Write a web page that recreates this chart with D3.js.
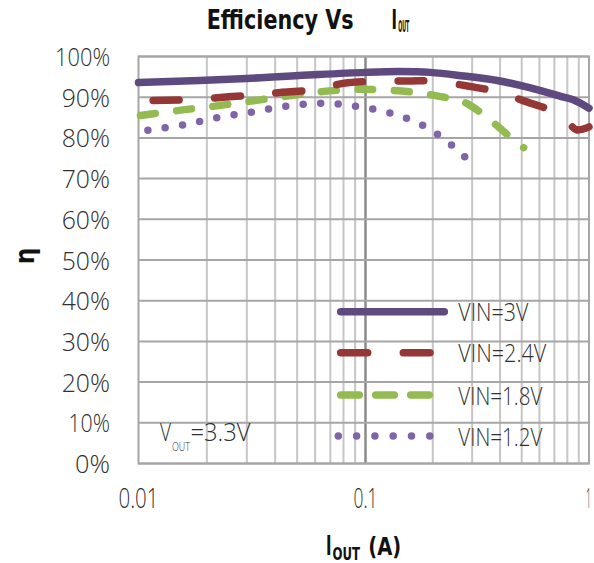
<!DOCTYPE html>
<html><head><meta charset="utf-8">
<script src="https://cdn.jsdelivr.net/npm/d3@7"></script>
<style>body{margin:0;background:#fff}</style></head>
<body>
<svg id="c" width="594" height="563"></svg>
<script>
// ---- data ----
const iVin3   = [0.01, 0.03, 0.059, 0.1, 0.14, 0.195, 0.275, 0.388, 0.547, 0.771, 0.855, 1.0];
const effVin3 = [93.6, 94.6, 95.5, 96.1, 96.3, 96.1, 95.2, 94.1, 92.3, 90.0, 89.3, 87.3];
const iVin24   = [0.0116, 0.017, 0.025, 0.032, 0.043, 0.059, 0.08, 0.113, 0.16, 0.2, 0.29, 0.39, 0.51, 0.7, 0.8, 0.88, 1.0];
const effVin24 = [89.2, 89.4, 90.1, 90.5, 91.2, 91.8, 93.4, 93.9, 94.0, 94.0, 92.7, 91.3, 89.1, 86.4, 84.0, 82.0, 82.7];
const iVin18   = [0.0102, 0.0147, 0.021, 0.03, 0.043, 0.06, 0.087, 0.11, 0.158, 0.206, 0.26, 0.288, 0.38, 0.476, 0.51];
const effVin18 = [85.5, 86.7, 87.7, 88.9, 90.1, 91.2, 91.9, 91.9, 91.3, 90.4, 89.2, 88.3, 83.4, 78.7, 77.6];
const iVin12   = [0.011, 0.0157, 0.0223, 0.032, 0.045, 0.065, 0.093, 0.133, 0.185, 0.246, 0.28];
const effVin12 = [81.9, 83.2, 85.0, 86.4, 87.8, 88.5, 87.7, 85.9, 82.8, 78.0, 75.2];
const seriesNames = ["VIN=3V", "VIN=2.4V", "VIN=1.8V", "VIN=1.2V"];
const yTickValues = [0, 10, 20, 30, 40, 50, 60, 70, 80, 90, 100];
const yTickLabels = ["0%", "10%", "20%", "30%", "40%", "50%", "60%", "70%", "80%", "90%", "100%"];
const xTickValues = [0.01, 0.1, 1];
const xTickLabels = ["0.01", "0.1", "1"];
const xMinorValues = [0.02,0.03,0.04,0.05,0.06,0.07,0.08,0.09,0.2,0.3,0.4,0.5,0.6,0.7,0.8,0.9];

// ---- setup ----
const svg = d3.select("#c");
const FONT = "'Open Sans','Liberation Sans Narrow','DejaVu Sans Condensed',sans-serif";
const BFONT = "'DejaVu Sans Condensed','Liberation Sans Narrow','DejaVu Sans',sans-serif";
const L = 138.5, R = 589, T = 56.5, B = 463.5;
const x = d3.scaleLog().domain([0.01, 0.1, 1]).range([L, 365.5, R]);
const y = d3.scaleLinear().domain([0, 100]).range([B, T]);

function txt(s, xp, yp, size, w, opts = {}) {
  const t = svg.append("text").attr("x", xp).attr("y", yp)
    .attr("font-family", opts.bold ? BFONT : FONT)
    .attr("font-size", size)
    .attr("font-weight", opts.bold ? "bold" : 300)
    .attr("fill", opts.fill || "#303030")
    .text(s);
  if (w) t.attr("textLength", w).attr("lengthAdjust", "spacingAndGlyphs");
  return t;
}
function charW(s) {
  let w = 0;
  for (const c of s) w += c === "1" ? 6.7 : c === "%" ? 21.7 : c === "." ? 5.5 : 13.3;
  return w;
}

// ---- grid ----
const g = svg.append("g");
g.selectAll("line.minor").data(xMinorValues).join("line")
  .attr("x1", d => x(d)).attr("x2", d => x(d)).attr("y1", T).attr("y2", B)
  .attr("stroke", "#c6c6c6").attr("stroke-width", 2);
g.append("line").attr("x1", x(0.1)).attr("x2", x(0.1)).attr("y1", T).attr("y2", B)
  .attr("stroke", "#8a8a8a").attr("stroke-width", 2.5);
g.selectAll("line.h").data(yTickValues).join("line")
  .attr("x1", L).attr("x2", R).attr("y1", d => y(d)).attr("y2", d => y(d))
  .attr("stroke", "#a6a6a6").attr("stroke-width", 2);
g.append("rect").attr("x", L).attr("y", T).attr("width", R - L).attr("height", B - T)
  .attr("fill", "none").attr("stroke", "#a6a6a6").attr("stroke-width", 2);

// ---- tick labels ----
yTickValues.forEach((v, i) => {
  const s = yTickLabels[i], w = charW(s);
  txt(s, 110 - w, y(v) + 9.5, 26, w);
});
const xLabW = [40, 24, 5];
xTickValues.forEach((v, i) => {
  const s = xTickLabels[i];
  const w = xLabW[i];
  txt(s, i === 2 ? 586 : x(v) - w / 2, 508, 27, w);
});

// ---- series ----
const line = d3.line().x(d => x(d[0])).y(d => y(d[1])).curve(d3.curveCatmullRom.alpha(0.5));
const zip = (a, b) => a.map((v, i) => [v, b[i]]);
const series = [
  { data: zip(iVin3, effVin3), color: "#5f4a7f", dash: null, w: 7.5 },
  { data: zip(iVin24, effVin24), color: "#953735", dash: "26,35.5", w: 7.5 },
  { data: zip(iVin18, effVin18), color: "#94bb52", dash: "15,21.5", w: 7.5 },
  { data: zip(iVin12, effVin12), color: "#8064a8", dash: "0,17.5", w: 7.5 }
];
series.slice().reverse().forEach(s => {
  svg.append("path").attr("d", line(s.data)).attr("fill", "none")
    .attr("stroke", s.color).attr("stroke-width", s.w)
    .attr("stroke-linecap", "round").attr("stroke-linejoin", "round")
    .attr("stroke-dasharray", s.dash);
});

// ---- legend ----
const legY = [311.7, 352.7, 395, 436];
const legDash = [null, "27,35.6", "18.6,16.4", "0,18.3"];
const legX = [[340.7, 444.3], [340.7, 430], [340.7, 430], [338.3, 430]];
const legW = [70, 88, 84, 84];
seriesNames.forEach((n, i) => {
  svg.append("line").attr("x1", legX[i][0]).attr("x2", legX[i][1])
    .attr("y1", legY[i]).attr("y2", legY[i])
    .attr("stroke", series[i].color).attr("stroke-width", 7.5)
    .attr("stroke-linecap", "round").attr("stroke-dasharray", legDash[i]);
  txt(n, 458.3, legY[i] + 9.5, 26, legW[i]);
});

// ---- annotation ----
txt("V", 160, 441, 25, 11);
txt("OUT", 172, 450.5, 12, 18);
txt("=3.3V", 190.5, 441, 26, 60);

// ---- titles ----
txt("Efficiency Vs", 206.7, 29.3, 26, 147, { bold: true, fill: "#111" });
txt("I", 391.5, 29.3, 26, 5.5, { bold: true, fill: "#111" });
txt("OUT", 398.3, 31.7, 15, 11, { bold: true, fill: "#111" });

txt("I", 326, 555, 26, 5.5, { bold: true, fill: "#111" });
txt("OUT", 332.5, 560, 18, 27.5, { bold: true, fill: "#111" });
txt("(A)", 368.3, 555, 25, 33, { bold: true, fill: "#111" });

svg.append("text").attr("transform", "translate(34,256) rotate(-90)")
  .attr("text-anchor", "middle").attr("font-family", BFONT).attr("font-weight", "bold")
  .attr("font-size", 26).attr("fill", "#111").text("η");
</script>
</body></html>
